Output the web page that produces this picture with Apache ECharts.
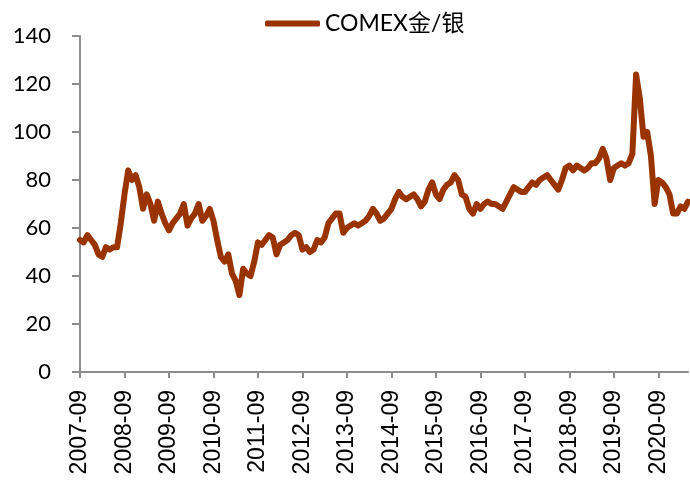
<!DOCTYPE html>
<html lang="zh-CN">
<head>
    <meta charset="utf-8">
    <title>COMEX金/银</title>
    <script src="https://cdn.jsdelivr.net/npm/echarts@6/dist/echarts.min.js"></script>
    <style>
        html, body { margin: 0; padding: 0; background: #fff; }
        #chart { width: 690px; height: 484px; }
    </style>
</head>
<body>
    <div id="chart"></div>
    <script>
        // 金银比（月度读数）
        var ratio2007 = [55, 54, 57, 55];
        var ratio2008 = [53, 49, 48, 52, 51, 52, 52, 62, 74, 84, 80, 82];
        var ratio2009 = [77, 68, 74, 70, 63, 71, 66, 62, 59, 62, 64, 66];
        var ratio2010 = [70, 61, 64, 66, 70, 63, 65, 68, 63, 55, 48, 46];
        var ratio2011 = [49, 41, 38, 32, 43, 41, 40, 46, 54, 53, 55, 57];
        var ratio2012 = [56, 49, 53, 54, 55, 57, 58, 57, 51, 52, 50, 51];
        var ratio2013 = [55, 54, 56, 62, 64, 66, 66, 58, 60, 61, 62, 61];
        var ratio2014 = [62, 63, 65, 68, 66, 63, 64, 66, 68, 72, 75, 73];
        var ratio2015 = [72, 73, 74, 72, 69, 71, 76, 79, 74, 72, 76, 78];
        var ratio2016 = [79, 82, 80, 74, 73, 68, 66, 70, 68, 70, 71, 70];
        var ratio2017 = [70, 69, 68, 71, 74, 77, 76, 75, 75, 77, 79, 78];
        var ratio2018 = [80, 81, 82, 80, 78, 76, 80, 85, 86, 84, 86, 85];
        var ratio2019 = [84, 85, 87, 87, 89, 93, 89, 80, 85, 86, 87, 86];
        var ratio2020 = [87, 91, 124, 114, 98, 100, 90, 70, 80, 79, 77, 74];
        var ratio2021 = [66, 66, 69, 68, 71];

        var ratio = [].concat(ratio2007, ratio2008, ratio2009, ratio2010, ratio2011,
            ratio2012, ratio2013, ratio2014, ratio2015, ratio2016, ratio2017,
            ratio2018, ratio2019, ratio2020, ratio2021);

        // 月份类目：2007-09 起
        var months = [];
        for (var i = 0; i < ratio.length; i++) {
            var m = 8 + i;
            var yy = 2007 + Math.floor(m / 12);
            var mm = (m % 12) + 1;
            months.push(yy + '-' + (mm < 10 ? '0' + mm : mm));
        }

        var axisColor = '#8c8c8c';
        var lineColor = '#993300';

        var myChart = echarts.init(document.getElementById('chart'));
        myChart.setOption({
            animation: false,
            backgroundColor: '#fff',
            legend: {
                data: [{ name: 'COMEX金/银', icon: 'roundRect' }],
                orient: 'horizontal',
                left: 260,
                top: 7,
                itemWidth: 55,
                itemHeight: 6,
                itemGap: 10,
                itemStyle: { color: lineColor, borderWidth: 0 },
                textStyle: { fontFamily: "Lato, 'Noto Sans CJK SC'", fontSize: 23, color: '#000' }
            },
            grid: { left: 80, right: 2, top: 36, bottom: 112, containLabel: false, outerBoundsMode: 'none' },
            xAxis: {
                type: 'category',
                data: months,
                boundaryGap: false,
                axisLine: { lineStyle: { color: axisColor, width: 2 } },
                axisTick: { show: true, interval: 11, length: 6, lineStyle: { color: axisColor, width: 2 } },
                axisLabel: {
                    interval: 11,
                    rotate: 90,
                    margin: 18,
                    fontFamily: "'Liberation Sans', Arial",
                    fontSize: 23,
                    color: '#000'
                },
                splitLine: { show: false }
            },
            yAxis: {
                type: 'value',
                min: 0,
                max: 140,
                interval: 20,
                axisLine: { show: true, lineStyle: { color: axisColor, width: 2 } },
                axisTick: { show: true, length: 8, lineStyle: { color: axisColor, width: 2 } },
                axisLabel: { margin: 29, fontFamily: 'Lato', fontSize: 22, color: '#000' },
                splitLine: { show: false }
            },
            series: [{
                name: 'COMEX金/银',
                type: 'line',
                data: ratio,
                symbol: 'none',
                smooth: false,
                lineStyle: { color: lineColor, width: 6, join: 'round', cap: 'round' },
                itemStyle: { color: lineColor }
            }]
        });
    </script>
</body>
</html>
